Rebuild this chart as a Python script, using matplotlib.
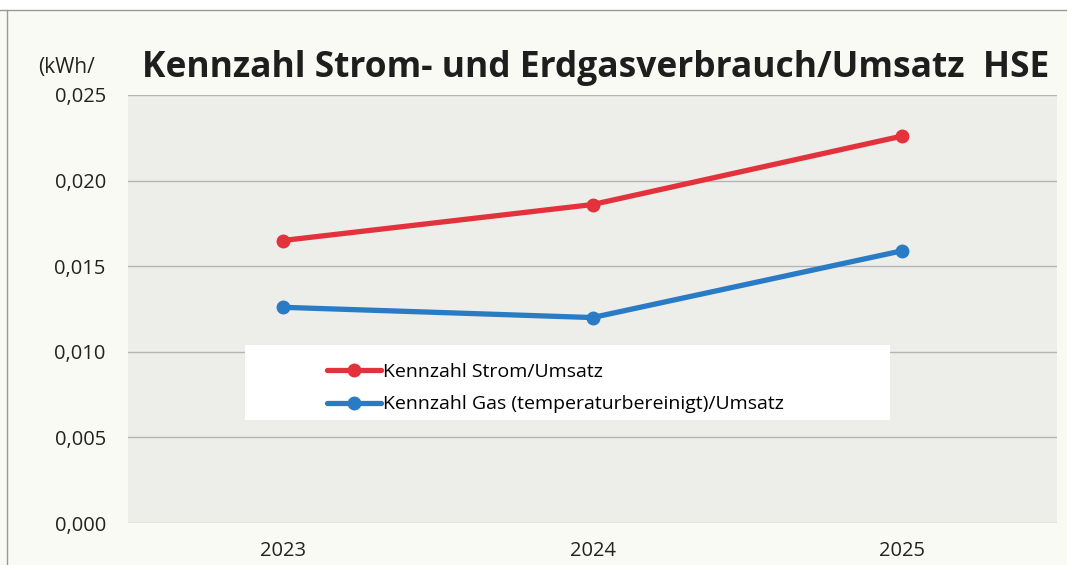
import matplotlib
matplotlib.use('Agg')
import matplotlib.pyplot as plt
from matplotlib.patches import Rectangle
from matplotlib.ticker import FuncFormatter

years = ['2023', '2024', '2025']
strom = [0.0165, 0.0186, 0.0226]
gas = [0.0126, 0.0120, 0.0159]
y_ticks = [0.0, 0.005, 0.010, 0.015, 0.020, 0.025]

plt.rcParams['font.family'] = ['Open Sans', 'DejaVu Sans']

fig = plt.figure(figsize=(10.67, 5.65), dpi=100, facecolor='#fafaf4')
ax = fig.add_axes([0.12, 0.0743, 0.8706, 0.7576])
ax.set_facecolor('#ededea')

x = range(len(years))
ax.plot(x, strom, color='#e2323c', linewidth=3.8, marker='o', markersize=9,
        label='Kennzahl Strom/Umsatz', solid_capstyle='round', zorder=3)
ax.plot(x, gas, color='#2a7bc6', linewidth=3.8, marker='o', markersize=9,
        label='Kennzahl Gas (temperaturbereinigt)/Umsatz', solid_capstyle='round', zorder=3)

ax.set_xlim(-0.5, 2.5)
ax.set_ylim(0, 0.025)
ax.set_xticks(list(x))
ax.set_xticklabels(years)
ax.set_yticks(y_ticks)
ax.yaxis.set_major_formatter(FuncFormatter(lambda v, p: '{:.3f}'.format(v).replace('.', ',')))
ax.tick_params(length=0, labelsize=14.5, colors='#222222', pad=16)
ax.tick_params(axis='x', pad=13)
ax.grid(axis='y', color='#b5b5b5', linewidth=1.0)
ax.set_axisbelow(True)
for s in ax.spines.values():
    s.set_visible(False)

# white legend panel
ax.add_patch(Rectangle((0.126, 0.241), 0.694, 0.175, transform=ax.transAxes,
                       facecolor='white', edgecolor='none', zorder=4))
leg = ax.legend(loc='upper left', bbox_to_anchor=(0.195, 0.415), frameon=False,
                fontsize=14, handlelength=2.8, handletextpad=0.1, labelspacing=0.75)
leg.set_zorder(5)

fig.text(0.133, 0.88, 'Kennzahl Strom- und Erdgasverbrauch/Umsatz  HSE',
         fontsize=25.5, fontweight='bold', color='#1e1e1e', va='center', ha='left')
fig.text(0.036, 0.88, '(kWh/', fontsize=15, color='#222222', va='center', ha='left')

# outer frame lines of the scanned chart
fig.add_artist(plt.Line2D([0, 1], [0.982, 0.982], color='#999999', linewidth=1.0))
fig.add_artist(plt.Line2D([0.0066, 0.0066], [0, 0.982], color='#999999', linewidth=1.0))
fig.patches.append(Rectangle((0, 0.982), 1, 0.018, transform=fig.transFigure,
                             facecolor='white', edgecolor='none'))

fig.savefig('out.png', dpi=100, facecolor=fig.get_facecolor())
